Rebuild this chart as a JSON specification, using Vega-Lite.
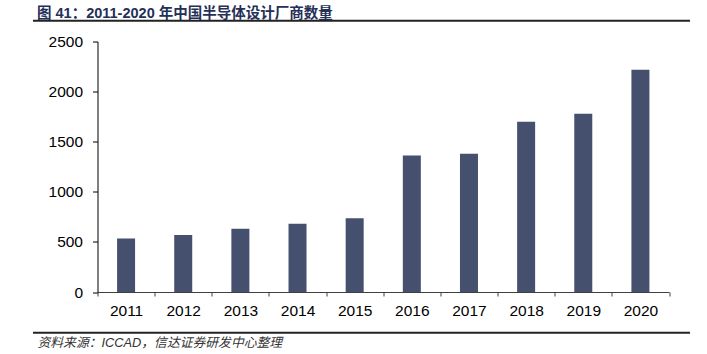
{
  "$schema": "https://vega.github.io/schema/vega-lite/v6.json",
  "width": 571.5,
  "height": 250.5,
  "autosize": {"type": "none"},
  "padding": {"left": 97.5, "top": 41.5, "right": 38, "bottom": 62},
  "background": "white",
  "config": {"view": {"stroke": null}, "font": "Liberation Sans"},
  "title": {
    "text": "图 41：2011-2020 年中国半导体设计厂商数量",
    "anchor": "start",
    "frame": "group",
    "dx": -60.5,
    "offset": -13,
    "baseline": "alphabetic",
    "font": "Liberation Sans, Noto Sans CJK SC",
    "fontSize": 14.5,
    "fontWeight": "bold",
    "color": "#243057"
  },
  "layer": [
    {
      "data": {"values": [
        {"year": "2011", "count": 534},
        {"year": "2012", "count": 569},
        {"year": "2013", "count": 632},
        {"year": "2014", "count": 681},
        {"year": "2015", "count": 736},
        {"year": "2016", "count": 1362},
        {"year": "2017", "count": 1380},
        {"year": "2018", "count": 1698},
        {"year": "2019", "count": 1780},
        {"year": "2020", "count": 2218}
      ]},
      "mark": {"type": "bar", "size": 18, "color": "#454f6e"},
      "encoding": {
        "x": {
          "field": "year", "type": "ordinal",
          "scale": {"paddingInner": 0, "paddingOuter": 0},
          "axis": {
            "labelAngle": 0, "labelFontSize": 15.5, "labelColor": "#000", "labelPadding": 7,
            "tickBand": "extent", "tickSize": 4, "tickColor": "#404040", "domainColor": "#404040",
            "title": "资料来源：ICCAD，信达证券研发中心整理",
            "titleFont": "Liberation Sans, Noto Sans CJK SC",
            "titleFontStyle": "italic", "titleFontWeight": "normal", "titleFontSize": 12.8,
            "titleColor": "#333", "titleAnchor": "start", "titleAlign": "left",
            "titleX": -60.5, "titleY": 50, "titleBaseline": "middle"
          }
        },
        "y": {
          "field": "count", "type": "quantitative",
          "scale": {"domain": [0, 2500], "nice": false},
          "axis": {
            "values": [0, 500, 1000, 1500, 2000, 2500], "format": "d", "grid": false, "title": null,
            "labelFontSize": 15.5, "labelColor": "#000", "labelPadding": 10,
            "tickSize": 5, "tickColor": "#000", "domainColor": "#000"
          }
        }
      }
    },
    {
      "data": {"values": [{}]},
      "mark": {"type": "rule", "color": "#222", "strokeWidth": 2},
      "encoding": {
        "x": {"datum": -0.1129, "type": "quantitative", "scale": {"domain": [0, 1]}, "axis": null},
        "x2": {"datum": 1.0367},
        "y": {"datum": 2708, "type": "quantitative", "scale": {"domain": [0, 2500], "nice": false}}
      }
    },
    {
      "data": {"values": [{}]},
      "mark": {"type": "rule", "color": "#222", "strokeWidth": 2},
      "encoding": {
        "x": {"datum": -0.1129, "type": "quantitative", "scale": {"domain": [0, 1]}, "axis": null},
        "x2": {"datum": 1.0367},
        "y": {"datum": -406, "type": "quantitative", "scale": {"domain": [0, 2500], "nice": false}}
      }
    }
  ],
  "resolve": {"scale": {"x": "independent"}}
}
